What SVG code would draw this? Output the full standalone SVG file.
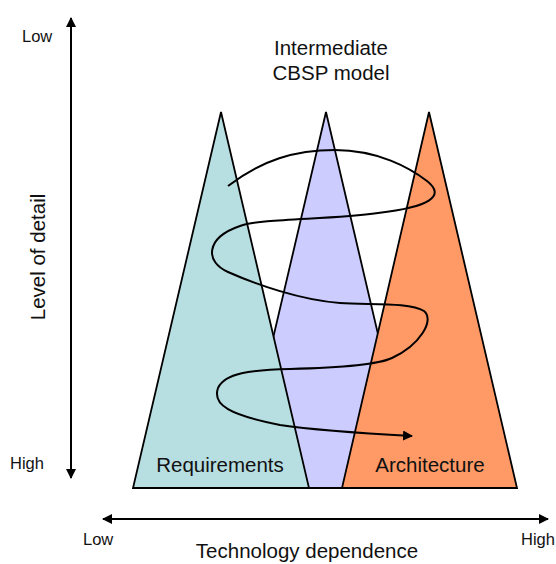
<svg xmlns="http://www.w3.org/2000/svg" width="556" height="564" viewBox="0 0 556 564">
<style>
text{font-family:"Liberation Sans",Arial,sans-serif;fill:#111}
.tri{stroke:#000;stroke-width:1.8;stroke-linejoin:miter}
.ax{stroke:#000;stroke-width:2;fill:none}
.s14{font-size:16.5px}
.s18{font-size:20.5px}
</style>
<defs>
<marker id="ah" viewBox="0 0 10 10" refX="9" refY="5" markerWidth="10" markerHeight="10" markerUnits="userSpaceOnUse" orient="auto">
<path d="M0,0 L10,5 L0,10 z" fill="#000"/>
</marker>
</defs>
<g id="cbsp"><polygon class="tri" points="326,112 238,488 414,488" fill="#CCCCFF"/></g>
<g id="requirements"><polygon class="tri" points="221,112 133,488 309,488" fill="#B7DEE1"/>
<text class="s18" x="220" y="472" text-anchor="middle">Requirements</text></g>
<g id="architecture"><polygon class="tri" points="429,112 342,488 517,488" fill="#FF9966"/>
<text class="s18" x="430" y="472" text-anchor="middle">Architecture</text></g>
<g id="title"><text class="s18" x="331" y="55" text-anchor="middle">Intermediate</text>
<text class="s18" x="331" y="80" text-anchor="middle">CBSP model</text></g>
<g id="connectors">
<path class="ax" d="M71,478 L71,18" marker-end="url(#ah)"/>
<path class="ax" d="M71,18 L71,478" marker-end="url(#ah)"/>
<path class="ax" d="M111,519 L548,519" marker-end="url(#ah)"/>
<path class="ax" d="M540,519 L103,519" marker-end="url(#ah)"/>
<path fill="none" stroke="#000" stroke-width="2" d="M228,186 C262,160 295,150 335,150 C378,150 410,168 427,181 C446,196 430,207 378,213 C330,220 262,218 240,226 C205,238 205,262 228,272 C255,284 300,300 340,303 C370,305 410,302 424,311 C435,320 420,345 392,358 C375,366 330,368 290,369 C250,370 225,373 218,388 C212,405 230,415 280,425 C320,431 375,434 412,436" marker-end="url(#ah)"/>
</g>
<g id="labels">
<text class="s14" x="22" y="42">Low</text>
<text class="s14" x="10" y="469">High</text>
<text class="s14" x="83" y="545">Low</text>
<text class="s14" x="521" y="545">High</text>
<text class="s18" x="307" y="558" text-anchor="middle">Technology dependence</text>
<text class="s18" transform="translate(45,257) rotate(-90)" text-anchor="middle">Level of detail</text>
</g>
</svg>
